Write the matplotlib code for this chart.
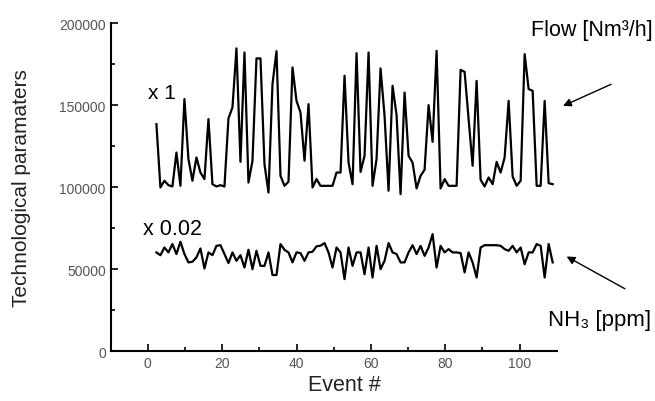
import numpy as np
import matplotlib
matplotlib.use("Agg")
import matplotlib.pyplot as plt

plt.rcParams['font.family'] = ['Liberation Sans', 'DejaVu Sans']

# 100 events, evenly spaced along the event axis
events = np.linspace(2.3, 108.9, 100)

# flow, Nm3/h (scale x 1)
flow = [138400, 99800, 103900, 101200, 100400, 121100, 100800, 153700, 117100, 103900,
        118100, 108900, 104900, 141500, 101800, 100400, 101200, 100400, 141900, 148600,
        184600, 115400, 182100, 102800, 116100, 178500, 178500, 114000, 96700, 162800,
        182900, 106900, 100800, 103300, 173000, 152600, 145500, 116100, 150600, 99800,
        104900, 100800, 100800, 100800, 100800, 108900, 108900, 167900, 115000, 101800,
        181700, 109300, 119100, 182100, 100800, 117100, 172400, 143500, 97800, 161800,
        143900, 95700, 157700, 119100, 115000, 99200, 106900, 110600, 150000, 127600,
        183100, 99200, 104900, 100800, 100800, 100800, 171500, 170300, 141500, 113000,
        164800, 104500, 100400, 105900, 101800, 115400, 108900, 118100, 152600, 106500,
        100800, 103900, 181100, 159800, 158700, 100800, 100800, 152600, 102400, 101800]

# NH3, ppm (scale x 0.02)
nh3 = [60200, 58500, 63200, 60200, 65300, 59200, 66700, 59200, 54100, 54500,
       57200, 62600, 50400, 60200, 58500, 64200, 64600, 59200, 53700, 60200,
       55100, 58500, 51000, 61800, 50000, 61200, 52000, 52000, 60200, 46400,
       46400, 65300, 61800, 60200, 54100, 60200, 59800, 55100, 60200, 60600,
       63900, 64300, 65900, 60200, 51000, 63200, 60200, 43900, 63200, 52000,
       60200, 60200, 46900, 63200, 44900, 64200, 50000, 55100, 65900, 60200,
       59200, 54100, 54100, 60200, 64600, 59200, 64200, 58100, 63200, 71300,
       51000, 64200, 60200, 62200, 60200, 60200, 59800, 48000, 60200, 54100,
       44900, 63200, 64600, 64600, 64600, 64600, 64200, 62200, 61200, 64200,
       60200, 63200, 53000, 60200, 60200, 65300, 64200, 44900, 65300, 54100]

fig = plt.figure(figsize=(6.55, 4.02), dpi=100)
ax = fig.add_axes([0.169, 0.124, 0.681, 0.816])

ax.plot(events, flow, color='black', lw=1.6)
ax.plot(events, nh3, color='black', lw=1.6)

ax.set_xlim(-10, 110)
ax.set_ylim(0, 200000)
ax.set_xticks([0, 20, 40, 60, 80, 100])
ax.set_xticks([10, 30, 50, 70, 90], minor=True)
ax.set_yticks([0, 50000, 100000, 150000, 200000])
ax.set_yticks([25000, 75000, 125000, 175000], minor=True)

for s in ['top', 'right']:
    ax.spines[s].set_visible(False)
for s in ['left', 'bottom']:
    ax.spines[s].set_linewidth(1.5)

ax.tick_params(which='both', direction='in', width=1.2, labelsize=10,
               labelcolor='#555555')
ax.tick_params(which='major', length=5)
ax.tick_params(which='minor', length=3)

ax.set_xlabel('Event #', fontsize=15.5, color='#222222', labelpad=4)
ax.xaxis.set_label_coords(0.525, -0.07)
ax.set_ylabel('Technological paramaters', fontsize=15, color='#222222', labelpad=20)

ax.text(0, 158000, 'x 1', fontsize=15, va='center', ha='left')
ax.text(-1.2, 75000, 'x 0.02', fontsize=15.5, va='center', ha='left')

ax.text(119.5, 196000, 'Flow [Nm³/h]', fontsize=15.5, ha='center', va='center',
        clip_on=False)
ax.text(121.5, 19500, 'NH₃ [ppm]', fontsize=16, ha='center', va='center',
        clip_on=False)

arrow = dict(arrowstyle='-|>', color='black', lw=1.0, mutation_scale=12)
ax.annotate('', xy=(111, 148800), xytext=(125.3, 163400), arrowprops=arrow,
            annotation_clip=False)
ax.annotate('', xy=(112, 58500), xytext=(129, 37200), arrowprops=arrow,
            annotation_clip=False)

fig.savefig('out.png', dpi=100)
